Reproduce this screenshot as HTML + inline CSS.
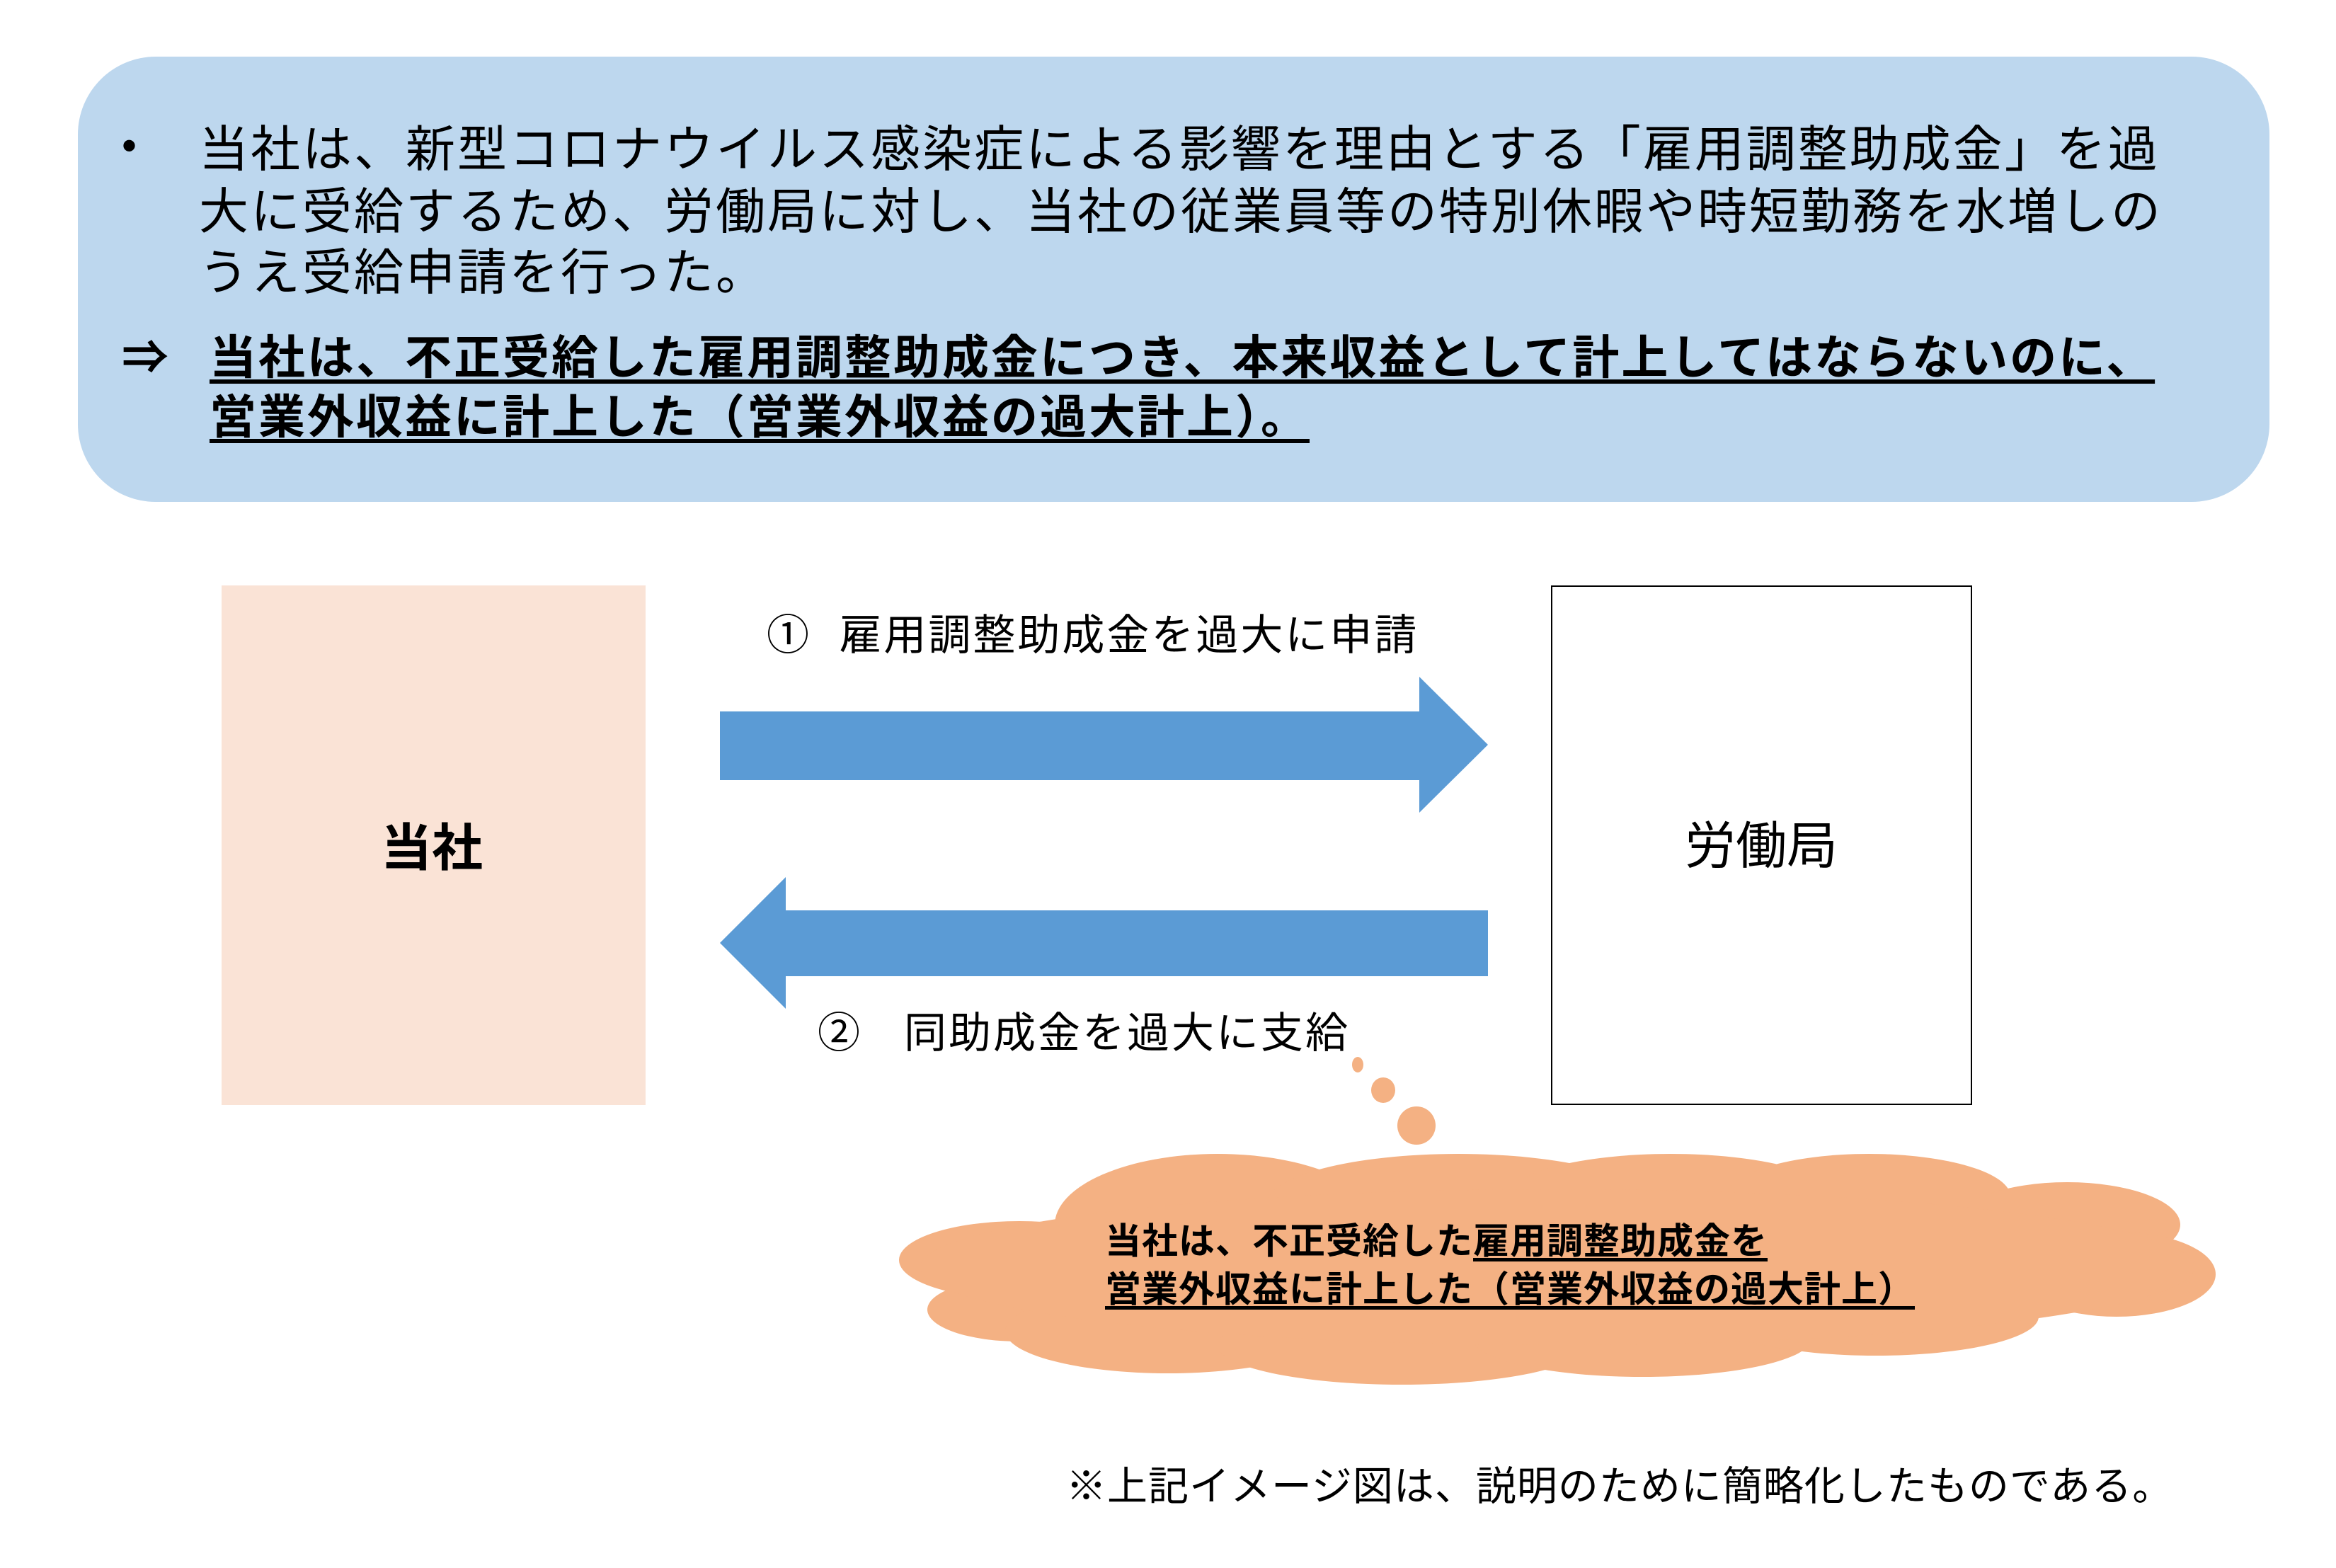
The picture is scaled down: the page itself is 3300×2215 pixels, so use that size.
<!DOCTYPE html>
<html><head><meta charset="utf-8"><style>
html,body{margin:0;padding:0;background:#fff;}
body{width:3300px;height:2215px;position:relative;overflow:hidden;font-family:"Liberation Sans","Noto Sans CJK JP",sans-serif;color:#000;}
.t{position:absolute;white-space:nowrap;line-height:1;}
</style></head><body>
<div style="position:absolute;left:110px;top:80px;width:3096px;height:629px;background:#BDD7EE;border-radius:110px;"></div>
<div class="t" style="left:172px;top:176px;font-size:60px;">•</div>
<div class="t" style="left:281px;top:176px;font-size:70px;letter-spacing:3px;">当社は、新型コロナウイルス感染症による影響を理由とする「雇用調整助成金」を過</div>
<div class="t" style="left:281px;top:264px;font-size:70px;letter-spacing:3px;">大に受給するため、労働局に対し、当社の従業員等の特別休暇や時短勤務を水増しの</div>
<div class="t" style="left:281px;top:350px;font-size:70px;letter-spacing:3px;">うえ受給申請を行った。</div>
<div class="t" style="left:172px;top:472px;font-size:66px;font-weight:bold;">⇒</div>
<div class="t" style="left:296px;top:472px;font-size:66px;font-weight:bold;letter-spacing:3px;text-decoration:underline;text-underline-offset:8px;">当社は、不正受給した雇用調整助成金につき、本来収益として計上してはならないのに、</div>
<div class="t" style="left:296px;top:556px;font-size:66px;font-weight:bold;letter-spacing:3px;text-decoration:underline;text-underline-offset:8px;">営業外収益に計上した（営業外収益の過大計上）。</div>

<div style="position:absolute;left:313px;top:827px;width:599px;height:734px;background:#FAE3D6;"></div>
<div class="t" style="left:538px;top:1163px;font-size:72px;font-weight:bold;">当社</div>
<div style="position:absolute;left:2191px;top:827px;width:591px;height:730px;border:2px solid #000;background:#fff;"></div>
<div class="t" style="left:2380px;top:1160px;font-size:72px;">労働局</div>

<svg width="3300" height="2215" style="position:absolute;left:0;top:0;">
<polygon points="1017,1005 2005,1005 2005,956 2102,1052 2005,1148 2005,1102 1017,1102" fill="#5B9BD5"/>
<polygon points="2102,1286 1110,1286 1110,1239 1017,1332 1110,1425 1110,1379 2102,1379" fill="#5B9BD5"/>
<g fill="#F4B183">
<ellipse cx="1918" cy="1504" rx="8" ry="11"/>
<ellipse cx="1954" cy="1540" rx="17" ry="18"/>
<ellipse cx="2001" cy="1590" rx="27" ry="27"/>
<ellipse cx="1720" cy="1730" rx="230" ry="100"/>
<ellipse cx="2060" cy="1700" rx="270" ry="70"/>
<ellipse cx="2360" cy="1690" rx="230" ry="60"/>
<ellipse cx="2640" cy="1690" rx="200" ry="60"/>
<ellipse cx="2920" cy="1730" rx="160" ry="60"/>
<ellipse cx="2990" cy="1800" rx="140" ry="60"/>
<ellipse cx="1440" cy="1780" rx="170" ry="55"/>
<ellipse cx="1440" cy="1850" rx="130" ry="45"/>
<ellipse cx="1650" cy="1880" rx="230" ry="60"/>
<ellipse cx="1980" cy="1900" rx="260" ry="56"/>
<ellipse cx="2320" cy="1890" rx="240" ry="55"/>
<ellipse cx="2650" cy="1860" rx="230" ry="55"/>
<ellipse cx="2200" cy="1790" rx="900" ry="110"/>
</g>
</svg>

<div class="t" style="left:1083px;top:868px;font-size:60px;letter-spacing:3px;">①&nbsp;&nbsp;雇用調整助成金を過大に申請</div>
<div class="t" style="left:1155px;top:1430px;font-size:60px;letter-spacing:3px;">②&nbsp;&nbsp;&nbsp;同助成金を過大に支給</div>

<div class="t" style="left:1561px;top:1728px;font-size:51px;font-weight:bold;letter-spacing:1px;">当社は、不正受給した<span style="text-decoration:underline;text-underline-offset:6px;">雇用調整助成金を</span></div>
<div class="t" style="left:1561px;top:1796px;font-size:51px;font-weight:bold;letter-spacing:1px;text-decoration:underline;text-underline-offset:6px;">営業外収益に計上した（営業外収益の過大計上）</div>

<div class="t" style="left:1506px;top:2072px;font-size:57px;letter-spacing:1px;">※上記イメージ図は、説明のために簡略化したものである。</div>
</body></html>
